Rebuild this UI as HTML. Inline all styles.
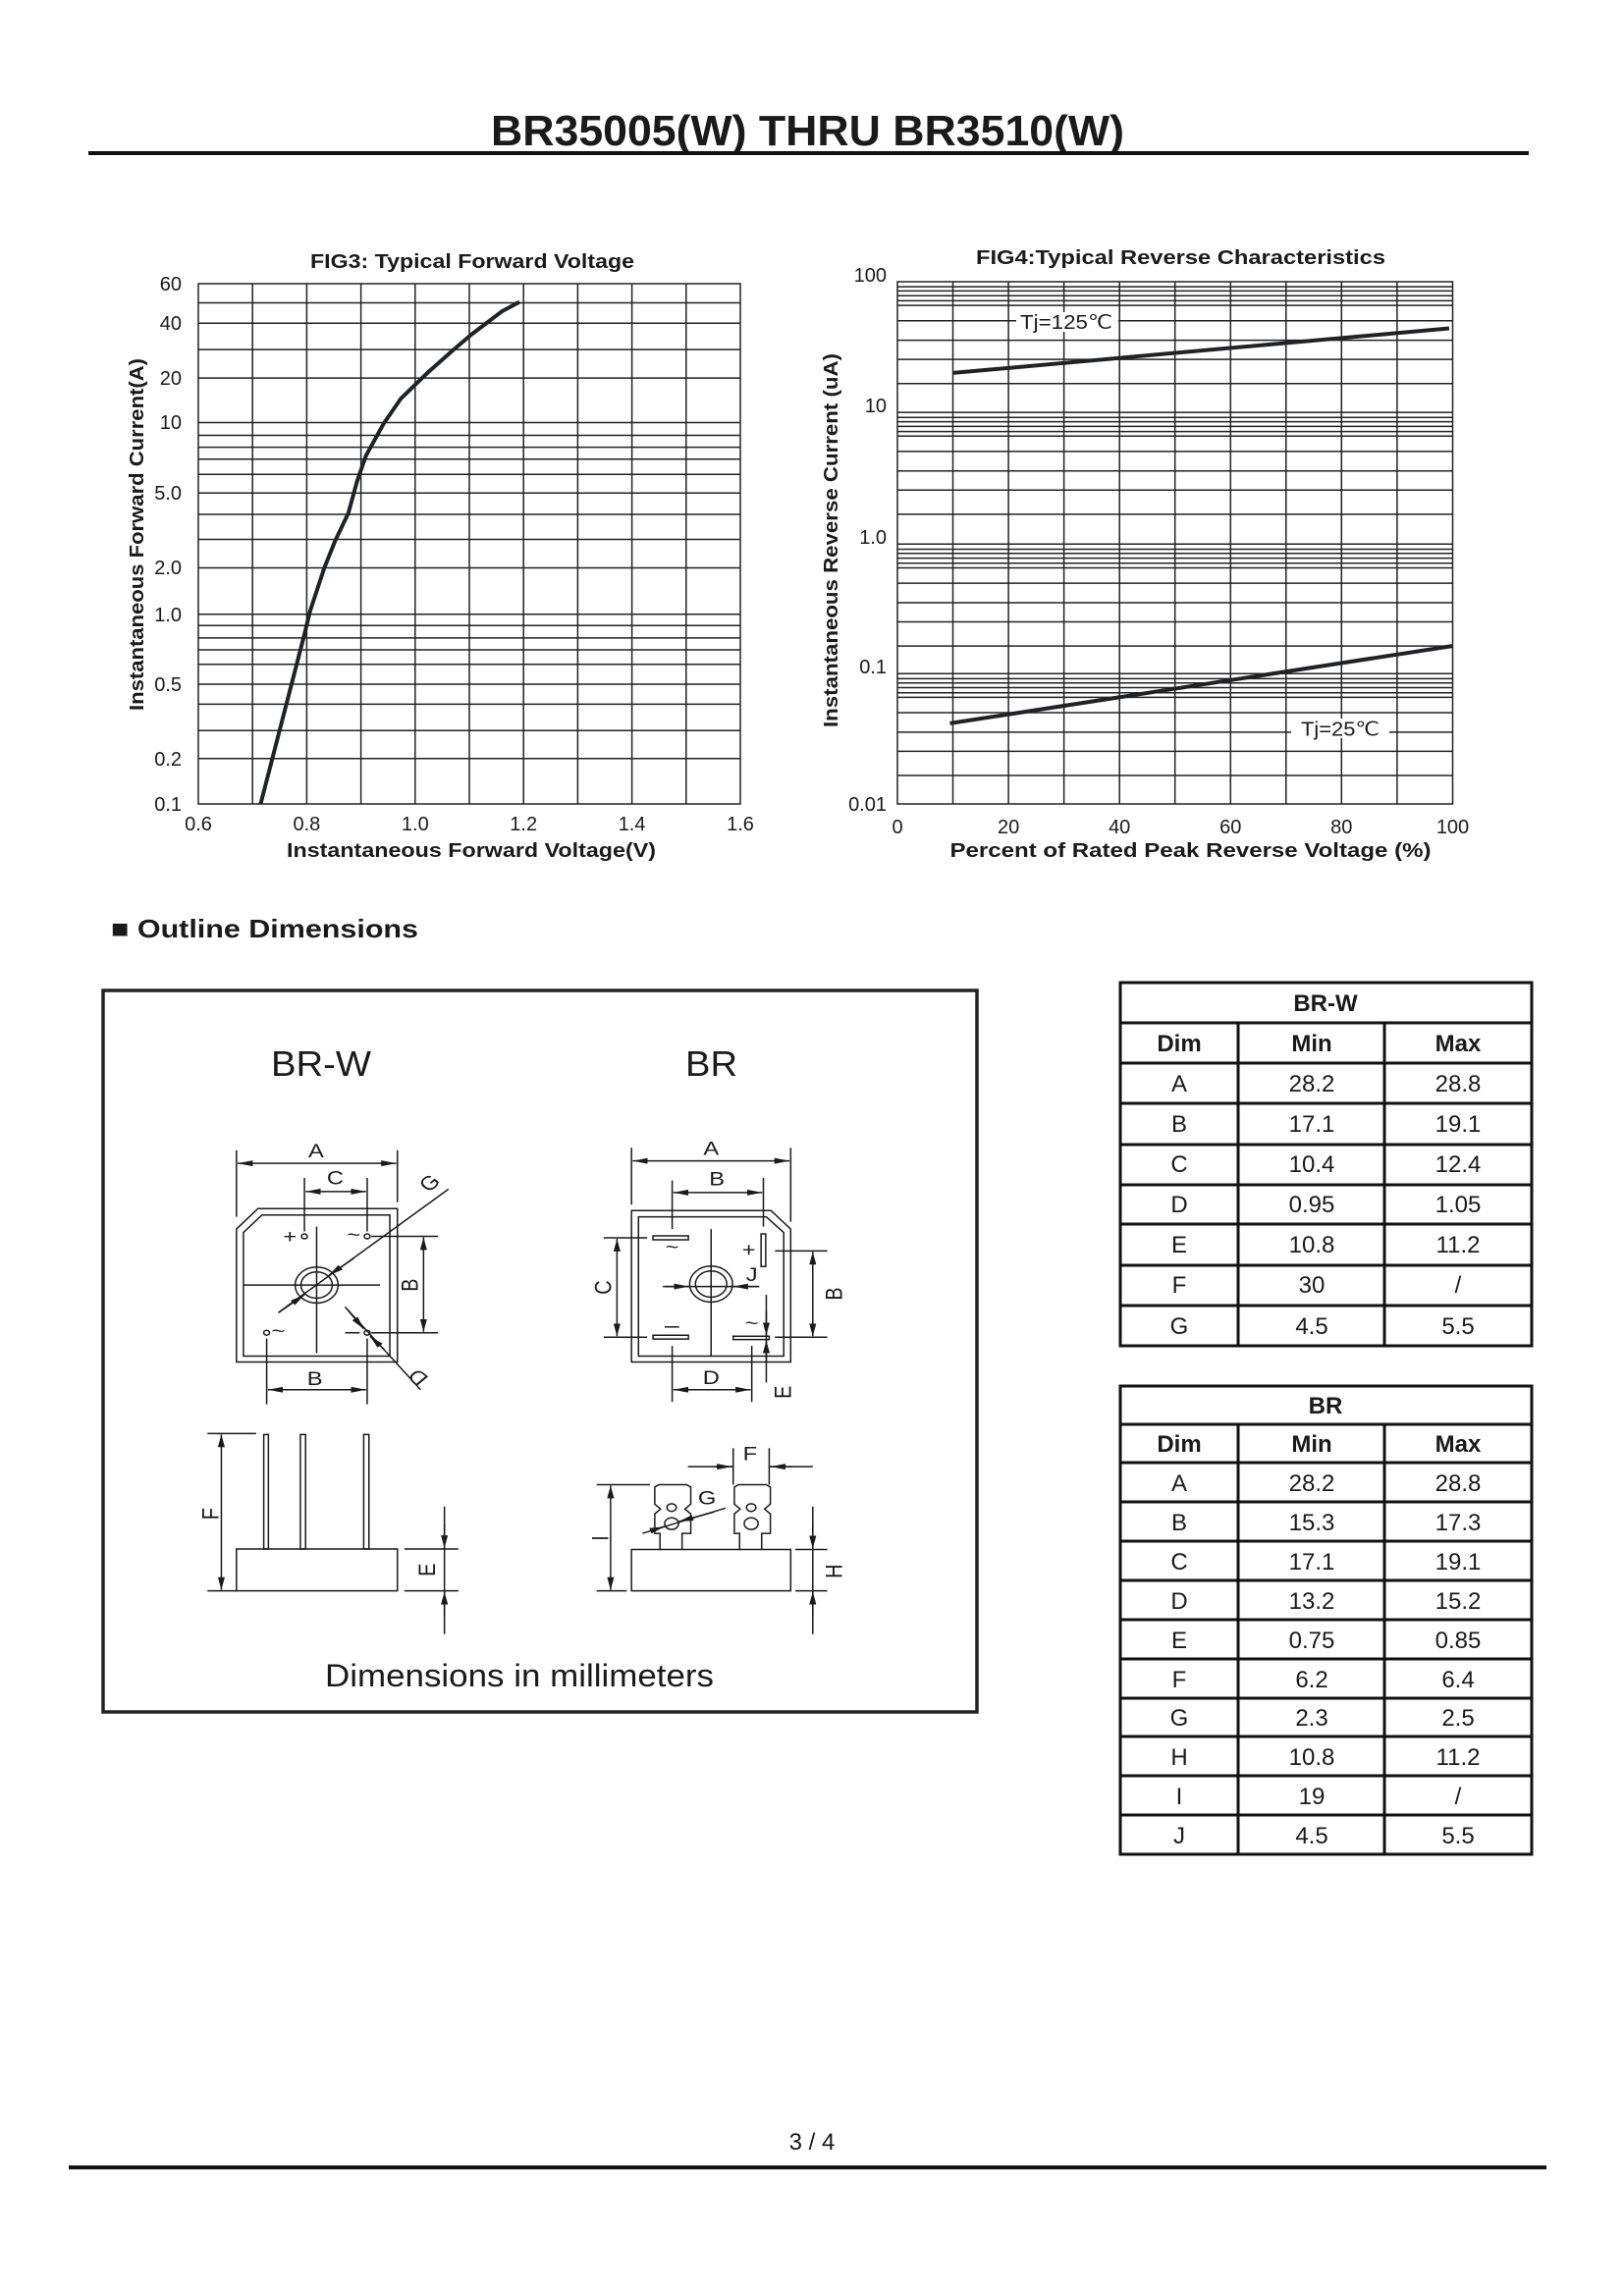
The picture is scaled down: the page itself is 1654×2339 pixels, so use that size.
<!DOCTYPE html>
<html><head><meta charset="utf-8"><style>
html,body{margin:0;padding:0;background:#fff}
svg{display:block}
text{font-family:"Liberation Sans",Arial,sans-serif;fill:#1a1a1a}
</style></head><body>
<svg width="1654" height="2339" viewBox="0 0 1654 2339" xmlns="http://www.w3.org/2000/svg">
<defs>
<marker id="ar" markerUnits="userSpaceOnUse" markerWidth="28" markerHeight="14" refX="26" refY="6" orient="auto-start-reverse"><path d="M0,0 L26,6 L0,12 z" fill="#1a1a1a"/></marker>
</defs>

<!-- header -->
<text x="500" y="148" font-size="44" font-weight="bold" textLength="645" lengthAdjust="spacingAndGlyphs">BR35005(W) THRU BR3510(W)</text>
<rect x="90" y="154" width="1467" height="4" fill="#111"/>

<!-- FIG3 -->
<g stroke="#222" stroke-width="1.5" fill="none">
<rect x="202" y="289" width="552" height="530"/>
<path d="M257.2,289V819M312.4,289V819M367.6,289V819M422.8,289V819M478,289V819M533.2,289V819M588.4,289V819M643.6,289V819M698.8,289V819"/>
<path d="M202,308.5H754M202,329.3H754M202,356.1H754M202,385.1H754M202,430.5H754M202,443.5H754M202,455.6H754M202,467.7H754M202,483.3H754M202,502.3H754M202,524H754M202,549.5H754M202,578.5H754M202,625.7H754M202,637.3H754M202,649.9H754M202,662H754M202,676.7H754M202,697H754M202,717.4H754M202,744.2H754M202,772.8H754"/>
</g>
<polyline fill="none" stroke="#1f2328" stroke-width="4" stroke-linejoin="round" points="265.4,819.1 283.3,749.8 296.7,697.9 310.1,646 315.9,622.2 330.2,578.9 341.4,550.8 354.8,522.7 363.7,490.2 372.7,464.3 390.6,431.8 408.4,405.9 435.3,379.9 462.1,356.1 480,340.9 511.3,317.1 529.1,307.6"/>
<g font-size="20" text-anchor="end">
<text x="185" y="296">60</text><text x="185" y="336">40</text><text x="185" y="392">20</text><text x="185" y="437">10</text><text x="185" y="509">5.0</text><text x="185" y="585">2.0</text><text x="185" y="633">1.0</text><text x="185" y="704">0.5</text><text x="185" y="780">0.2</text><text x="185" y="826">0.1</text>
</g>
<g font-size="20" text-anchor="middle">
<text x="202" y="846">0.6</text><text x="312.4" y="846">0.8</text><text x="422.8" y="846">1.0</text><text x="533.2" y="846">1.2</text><text x="643.6" y="846">1.4</text><text x="754" y="846">1.6</text>
</g>
<text x="316" y="273" font-size="20" font-weight="bold" textLength="330" lengthAdjust="spacingAndGlyphs">FIG3: Typical Forward Voltage</text>
<text x="292" y="873" font-size="20" font-weight="bold" textLength="376" lengthAdjust="spacingAndGlyphs">Instantaneous Forward Voltage(V)</text>
<text transform="translate(146,724) rotate(-90)" font-size="20" font-weight="bold" textLength="359" lengthAdjust="spacingAndGlyphs">Instantaneous Forward Current(A)</text>

<!-- FIG4 -->
<g stroke="#222" stroke-width="1.5" fill="none">
<rect x="914" y="287" width="565.5" height="532"/>
<path d="M970.5,287V819M1027.1,287V819M1083.6,287V819M1140.2,287V819M1196.7,287V819M1253.3,287V819M1309.8,287V819M1366.3,287V819M1422.9,287V819"/>
<path d="M914,292.1H1479.5M914,296.4H1479.5M914,301.2H1479.5M914,306.4H1479.5M914,311.1H1479.5M914,326.7H1479.5M914,346.6H1479.5M914,366.1H1479.5M914,390.7H1479.5
M914,420.1H1479.5M914,425.3H1479.5M914,429.6H1479.5M914,434.4H1479.5M914,439.6H1479.5M914,444.3H1479.5M914,459.9H1479.5M914,479.8H1479.5M914,499.3H1479.5M914,523.9H1479.5
M914,554.3H1479.5M914,559.5H1479.5M914,563.8H1479.5M914,568.6H1479.5M914,573.8H1479.5M914,578.5H1479.5M914,594.1H1479.5M914,614H1479.5M914,633.5H1479.5M914,658.1H1479.5
M914,686.2H1479.5M914,691.4H1479.5M914,695.7H1479.5M914,700.5H1479.5M914,705.7H1479.5M914,710.4H1479.5M914,726H1479.5M914,745.9H1479.5M914,765.4H1479.5M914,790H1479.5"/>
</g>
<line x1="970.6" y1="379.9" x2="1476" y2="334.5" stroke="#1f2328" stroke-width="4"/>
<line x1="967.5" y1="736.9" x2="1479" y2="658.1" stroke="#1f2328" stroke-width="4"/>
<rect x="1035" y="318" width="104" height="20" fill="#fff"/>
<text x="1039" y="335" font-size="20" textLength="94" lengthAdjust="spacingAndGlyphs">Tj=125℃</text>
<rect x="1315" y="732" width="100" height="20" fill="#fff"/>
<text x="1325" y="749.5" font-size="20" textLength="80" lengthAdjust="spacingAndGlyphs">Tj=25℃</text>
<g font-size="20" text-anchor="end">
<text x="903" y="287">100</text><text x="903" y="420">10</text><text x="903" y="554">1.0</text><text x="903" y="686">0.1</text><text x="903" y="826">0.01</text>
</g>
<g font-size="20" text-anchor="middle">
<text x="914" y="849">0</text><text x="1027.1" y="849">20</text><text x="1140.2" y="849">40</text><text x="1253.3" y="849">60</text><text x="1366.3" y="849">80</text><text x="1479.5" y="849">100</text>
</g>
<text x="994" y="269" font-size="20" font-weight="bold" textLength="417" lengthAdjust="spacingAndGlyphs">FIG4:Typical Reverse Characteristics</text>
<text x="967.5" y="873" font-size="20" font-weight="bold" textLength="490" lengthAdjust="spacingAndGlyphs">Percent of Rated Peak Reverse Voltage  (%)</text>
<text transform="translate(853,741) rotate(-90)" font-size="20" font-weight="bold" textLength="381" lengthAdjust="spacingAndGlyphs">Instantaneous Reverse Current (uA)</text>

<!-- Outline heading -->
<text x="113" y="955" font-size="26" font-weight="bold" textLength="313" lengthAdjust="spacingAndGlyphs">■ Outline Dimensions</text>

<!-- drawing box -->
<rect x="105" y="1009" width="890" height="735" fill="none" stroke="#222" stroke-width="3.5"/>
<text x="276" y="1096" font-size="36" textLength="102" lengthAdjust="spacingAndGlyphs">BR-W</text>
<text x="698" y="1096" font-size="36" textLength="53" lengthAdjust="spacingAndGlyphs">BR</text>
<text x="331" y="1718" font-size="32" textLength="396" lengthAdjust="spacingAndGlyphs">Dimensions in millimeters</text>

<g transform="translate(100,1001.6) scale(0.5917,0.496)">
<g fill="none" stroke="#1a1a1a" stroke-width="1.5" vector-effect="non-scaling-stroke">
<!-- BR-W top -->
<path vector-effect="non-scaling-stroke" d="M238,778 L238,505 L275,463 L515,463 L515,778 Z"/>
<path vector-effect="non-scaling-stroke" d="M250,766 L250,512 L282,476 L502,476 L502,766 Z"/>
<path vector-effect="non-scaling-stroke" d="M238,343V480M515,343V450M355,400V510M463,400V510M250,620H485M376,500V760M470,520H585M470,718H585M290,730V865M463,730V865"/>
<line vector-effect="non-scaling-stroke" x1="240" y1="370" x2="513" y2="370" marker-start="url(#ar)" marker-end="url(#ar)"/>
<line vector-effect="non-scaling-stroke" x1="357" y1="428" x2="461" y2="428" marker-start="url(#ar)" marker-end="url(#ar)"/>
<line vector-effect="non-scaling-stroke" x1="560" y1="522" x2="560" y2="716" marker-start="url(#ar)" marker-end="url(#ar)"/>
<line vector-effect="non-scaling-stroke" x1="292" y1="835" x2="461" y2="835" marker-start="url(#ar)" marker-end="url(#ar)"/>
<circle vector-effect="non-scaling-stroke" cx="376" cy="620" r="37"/>
<circle vector-effect="non-scaling-stroke" cx="376" cy="620" r="27"/>
<circle vector-effect="non-scaling-stroke" cx="355" cy="520" r="5"/><circle vector-effect="non-scaling-stroke" cx="463" cy="520" r="5"/>
<circle vector-effect="non-scaling-stroke" cx="290" cy="718" r="5"/><circle vector-effect="non-scaling-stroke" cx="463" cy="718" r="5"/>
<line vector-effect="non-scaling-stroke" x1="603" y1="423" x2="312" y2="675"/>
<line vector-effect="non-scaling-stroke" x1="440" y1="565" x2="397" y2="600" marker-end="url(#ar)"/>
<line vector-effect="non-scaling-stroke" x1="310" y1="677" x2="355" y2="640" marker-end="url(#ar)"/>
<line vector-effect="non-scaling-stroke" x1="425" y1="665" x2="555" y2="835"/>
<line vector-effect="non-scaling-stroke" x1="430" y1="672" x2="457" y2="710" marker-end="url(#ar)"/>
<line vector-effect="non-scaling-stroke" x1="492" y1="752" x2="468" y2="725" marker-end="url(#ar)"/>
<path vector-effect="non-scaling-stroke" d="M425,718H450"/>
<!-- BR-W side -->
<rect vector-effect="non-scaling-stroke" x="238" y="1162" width="277" height="86"/>
<rect vector-effect="non-scaling-stroke" x="285" y="927" width="8" height="235"/>
<rect vector-effect="non-scaling-stroke" x="348" y="927" width="9" height="235"/>
<rect vector-effect="non-scaling-stroke" x="457" y="927" width="9" height="235"/>
<path vector-effect="non-scaling-stroke" d="M188,925H272M188,1248H238M527,1162H620M527,1248H620M596,1075V1337"/>
<line vector-effect="non-scaling-stroke" x1="212" y1="927" x2="212" y2="1246" marker-start="url(#ar)" marker-end="url(#ar)"/>
<line vector-effect="non-scaling-stroke" x1="596" y1="1110" x2="596" y2="1160" marker-end="url(#ar)"/>
<line vector-effect="non-scaling-stroke" x1="596" y1="1300" x2="596" y2="1250" marker-end="url(#ar)"/>
<!-- BR top -->
<path vector-effect="non-scaling-stroke" d="M918,778 L918,467 L1158,467 L1192,505 L1192,778 Z"/>
<path vector-effect="non-scaling-stroke" d="M930,766 L930,480 L1150,480 L1180,512 L1180,766 Z"/>
<path vector-effect="non-scaling-stroke" d="M918,338V455M1192,338V490M988,405V505M1145,400V500M972,623H1138M1055,505V765M870,523H945M870,727H945M1165,550H1255M1165,727H1255M988,745V860M1125,745V860M1150,640V820"/>
<line vector-effect="non-scaling-stroke" x1="920" y1="365" x2="1190" y2="365" marker-start="url(#ar)" marker-end="url(#ar)"/>
<line vector-effect="non-scaling-stroke" x1="990" y1="430" x2="1143" y2="430" marker-start="url(#ar)" marker-end="url(#ar)"/>
<line vector-effect="non-scaling-stroke" x1="893" y1="525" x2="893" y2="725" marker-start="url(#ar)" marker-end="url(#ar)"/>
<line vector-effect="non-scaling-stroke" x1="1230" y1="552" x2="1230" y2="725" marker-start="url(#ar)" marker-end="url(#ar)"/>
<line vector-effect="non-scaling-stroke" x1="990" y1="835" x2="1123" y2="835" marker-start="url(#ar)" marker-end="url(#ar)"/>
<line vector-effect="non-scaling-stroke" x1="975" y1="623" x2="1017" y2="623" marker-end="url(#ar)"/>
<line vector-effect="non-scaling-stroke" x1="1135" y1="623" x2="1093" y2="623" marker-end="url(#ar)"/>
<line vector-effect="non-scaling-stroke" x1="1150" y1="675" x2="1150" y2="723" marker-end="url(#ar)"/>
<line vector-effect="non-scaling-stroke" x1="1150" y1="780" x2="1150" y2="734" marker-end="url(#ar)"/>
<circle vector-effect="non-scaling-stroke" cx="1055" cy="618" r="37"/>
<circle vector-effect="non-scaling-stroke" cx="1055" cy="618" r="27"/>
<rect vector-effect="non-scaling-stroke" x="955" y="519" width="61" height="8"/>
<rect vector-effect="non-scaling-stroke" x="955" y="723" width="61" height="8"/>
<rect vector-effect="non-scaling-stroke" x="1093" y="725" width="62" height="7"/>
<rect vector-effect="non-scaling-stroke" x="1141" y="515" width="8" height="67"/>
<path vector-effect="non-scaling-stroke" d="M975,706H1000"/>
<!-- BR side -->
<rect vector-effect="non-scaling-stroke" x="918" y="1163" width="274" height="85"/>
<path vector-effect="non-scaling-stroke" d="M967,1163 L967,1130 L958,1130 L958,1090 L968,1080 L958,1070 L958,1035 L965,1030 L1013,1030 L1020,1035 L1020,1070 L1010,1080 L1020,1090 L1020,1130 L1005,1130 L1005,1163"/>
<path vector-effect="non-scaling-stroke" d="M1104,1163 L1104,1130 L1095,1130 L1095,1090 L1105,1080 L1095,1070 L1095,1035 L1102,1030 L1150,1030 L1157,1035 L1157,1070 L1147,1080 L1157,1090 L1157,1130 L1142,1130 L1142,1163"/>
<circle vector-effect="non-scaling-stroke" cx="987" cy="1077" r="8"/><circle vector-effect="non-scaling-stroke" cx="987" cy="1110" r="12"/>
<circle vector-effect="non-scaling-stroke" cx="1124" cy="1077" r="8"/><circle vector-effect="non-scaling-stroke" cx="1124" cy="1110" r="12"/>
<path vector-effect="non-scaling-stroke" d="M1093,955V1030M1155,955V1030M1015,993H1093M1155,993H1230M858,1030H950M858,1248H910M1200,1163H1255M1200,1248H1255M1230,1075V1337"/>
<line vector-effect="non-scaling-stroke" x1="1060" y1="993" x2="1091" y2="993" marker-end="url(#ar)"/>
<line vector-effect="non-scaling-stroke" x1="1195" y1="993" x2="1157" y2="993" marker-end="url(#ar)"/>
<line vector-effect="non-scaling-stroke" x1="937" y1="1130" x2="1080" y2="1078"/>
<line vector-effect="non-scaling-stroke" x1="950" y1="1125" x2="975" y2="1116" marker-end="url(#ar)"/>
<line vector-effect="non-scaling-stroke" x1="1060" y1="1086" x2="999" y2="1106" marker-end="url(#ar)"/>
<line vector-effect="non-scaling-stroke" x1="882" y1="1032" x2="882" y2="1246" marker-start="url(#ar)" marker-end="url(#ar)"/>
<line vector-effect="non-scaling-stroke" x1="1230" y1="1110" x2="1230" y2="1161" marker-end="url(#ar)"/>
<line vector-effect="non-scaling-stroke" x1="1230" y1="1300" x2="1230" y2="1250" marker-end="url(#ar)"/>
</g>
<g font-size="40" text-anchor="middle">
<text x="375" y="358">A</text><text x="408" y="413">C</text>
<text x="330" y="533">+</text><text x="440" y="530">~</text><text x="310" y="728">~</text>
<text transform="translate(580,420) rotate(-45)">G</text>
<text transform="translate(550,620) rotate(-90)">B</text>
<text transform="translate(560,800) rotate(-135)">D</text>
<text x="373" y="825">B</text>
<text transform="translate(207,1090) rotate(-90)">F</text>
<text transform="translate(580,1205) rotate(-90)">E</text>
<text x="1055" y="353">A</text><text x="1065" y="415">B</text>
<text x="988" y="555">~</text><text x="1120" y="560">+</text><text x="1125" y="712">~</text>
<text x="1125" y="612">J</text>
<text transform="translate(883,625) rotate(-90)">C</text>
<text transform="translate(1280,638) rotate(-90)">B</text>
<text x="1055" y="823">D</text>
<text transform="translate(1192,840) rotate(-90)">E</text>
<text x="1122" y="980">F</text>
<text x="1048" y="1070">G</text>
<text transform="translate(878,1140) rotate(-90)">I</text>
<text transform="translate(1280,1208) rotate(-90)">H</text>
</g>
</g>

<!-- tables -->
<g stroke="#111" stroke-width="3" fill="none">
<rect x="1141" y="1001" width="419" height="370"/>
<path d="M1141,1042H1560M1141,1083H1560M1141,1124H1560M1141,1166H1560M1141,1207H1560M1141,1247H1560M1141,1289H1560M1141,1330H1560M1261,1042V1371M1410,1042V1371"/>
<rect x="1141" y="1412" width="419" height="477"/>
<path d="M1141,1451H1560M1141,1490H1560M1141,1530H1560M1141,1570H1560M1141,1610H1560M1141,1650H1560M1141,1690H1560M1141,1730H1560M1141,1769H1560M1141,1809H1560M1141,1849H1560M1261,1451V1889M1410,1451V1889"/>
</g>
<g font-size="24" text-anchor="middle">
<text x="1350" y="1030" font-weight="bold">BR-W</text>
<text x="1201" y="1071" font-weight="bold">Dim</text><text x="1336" y="1071" font-weight="bold">Min</text><text x="1485" y="1071" font-weight="bold">Max</text>
<text x="1201" y="1112">A</text><text x="1336" y="1112">28.2</text><text x="1485" y="1112">28.8</text>
<text x="1201" y="1153">B</text><text x="1336" y="1153">17.1</text><text x="1485" y="1153">19.1</text>
<text x="1201" y="1194">C</text><text x="1336" y="1194">10.4</text><text x="1485" y="1194">12.4</text>
<text x="1201" y="1235">D</text><text x="1336" y="1235">0.95</text><text x="1485" y="1235">1.05</text>
<text x="1201" y="1276">E</text><text x="1336" y="1276">10.8</text><text x="1485" y="1276">11.2</text>
<text x="1201" y="1317">F</text><text x="1336" y="1317">30</text><text x="1485" y="1317">/</text>
<text x="1201" y="1359">G</text><text x="1336" y="1359">4.5</text><text x="1485" y="1359">5.5</text>

<text x="1350" y="1440" font-weight="bold">BR</text>
<text x="1201" y="1479" font-weight="bold">Dim</text><text x="1336" y="1479" font-weight="bold">Min</text><text x="1485" y="1479" font-weight="bold">Max</text>
<text x="1201" y="1519">A</text><text x="1336" y="1519">28.2</text><text x="1485" y="1519">28.8</text>
<text x="1201" y="1559">B</text><text x="1336" y="1559">15.3</text><text x="1485" y="1559">17.3</text>
<text x="1201" y="1599">C</text><text x="1336" y="1599">17.1</text><text x="1485" y="1599">19.1</text>
<text x="1201" y="1639">D</text><text x="1336" y="1639">13.2</text><text x="1485" y="1639">15.2</text>
<text x="1201" y="1679">E</text><text x="1336" y="1679">0.75</text><text x="1485" y="1679">0.85</text>
<text x="1201" y="1719">F</text><text x="1336" y="1719">6.2</text><text x="1485" y="1719">6.4</text>
<text x="1201" y="1758">G</text><text x="1336" y="1758">2.3</text><text x="1485" y="1758">2.5</text>
<text x="1201" y="1798">H</text><text x="1336" y="1798">10.8</text><text x="1485" y="1798">11.2</text>
<text x="1201" y="1838">I</text><text x="1336" y="1838">19</text><text x="1485" y="1838">/</text>
<text x="1201" y="1878">J</text><text x="1336" y="1878">4.5</text><text x="1485" y="1878">5.5</text>
</g>

<!-- footer -->
<text x="827" y="2190" font-size="24" text-anchor="middle">3 / 4</text>
<rect x="70" y="2206" width="1505" height="4" fill="#111"/>
</svg>
</body></html>
